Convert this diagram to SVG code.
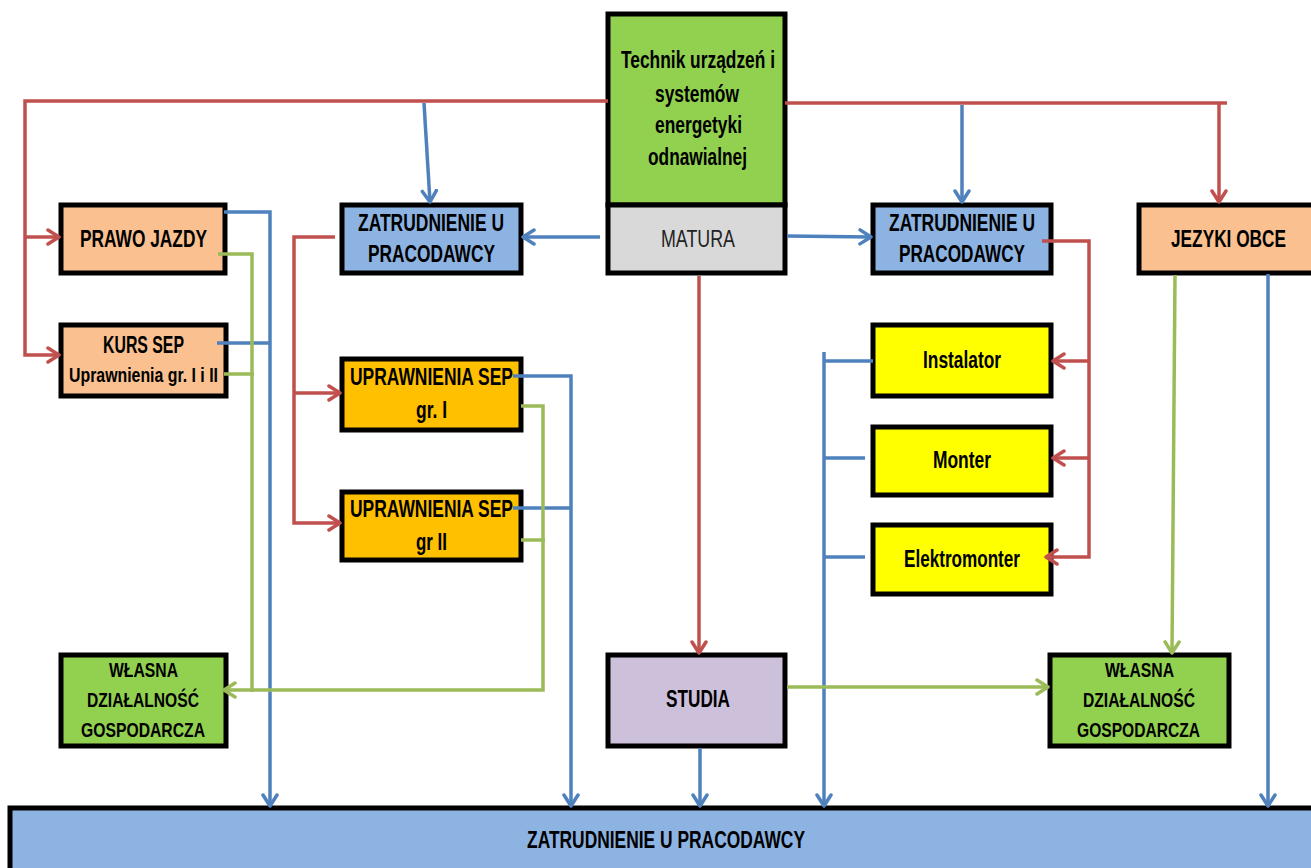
<svg xmlns="http://www.w3.org/2000/svg" width="1311" height="868" viewBox="0 0 1311 868">
<style>
.box{stroke:#000;stroke-width:5}
.t{font-family:"Liberation Sans",Arial,sans-serif;font-weight:bold;font-size:23px;fill:#000}
.s{font-size:21px}
.n{font-weight:normal;fill:#222}
.r{stroke:#C0504D;stroke-width:3.5;fill:none}
.b{stroke:#4F81BD;stroke-width:3.5;fill:none}
.g{stroke:#9BBB59;stroke-width:3.5;fill:none}
.r.a{marker-end:url(#ar)}
.b.a{marker-end:url(#ab)}
.g.a{marker-end:url(#ag)}
</style>
<defs>
<marker id="ar" viewBox="0 0 16 18" refX="13" refY="9" markerWidth="16" markerHeight="18" markerUnits="userSpaceOnUse" orient="auto"><path d="M2,2 L13,9 L2,16" fill="none" stroke="#C0504D" stroke-width="3.5" stroke-linecap="round" stroke-linejoin="round"/></marker>
<marker id="ab" viewBox="0 0 16 18" refX="13" refY="9" markerWidth="16" markerHeight="18" markerUnits="userSpaceOnUse" orient="auto"><path d="M2,2 L13,9 L2,16" fill="none" stroke="#4F81BD" stroke-width="3.5" stroke-linecap="round" stroke-linejoin="round"/></marker>
<marker id="ag" viewBox="0 0 16 18" refX="13" refY="9" markerWidth="16" markerHeight="18" markerUnits="userSpaceOnUse" orient="auto"><path d="M2,2 L13,9 L2,16" fill="none" stroke="#9BBB59" stroke-width="3.5" stroke-linecap="round" stroke-linejoin="round"/></marker>
</defs>
<rect width="1311" height="868" fill="#fff"/>

<g id="tech">
<rect class="box" x="608" y="14" width="177" height="191" fill="#92D050"/>
<text class="t" x="621" y="68" textLength="154" lengthAdjust="spacingAndGlyphs">Technik urządzeń i</text>
<text class="t" x="655" y="102" textLength="84" lengthAdjust="spacingAndGlyphs">systemów</text>
<text class="t" x="655" y="133" textLength="87" lengthAdjust="spacingAndGlyphs">energetyki</text>
<text class="t" x="648" y="165" textLength="99" lengthAdjust="spacingAndGlyphs">odnawialnej</text>
</g>
<g id="matura">
<rect class="box" x="608" y="205" width="177" height="68" fill="#D9D9D9"/>
<text class="t n" x="661" y="247" textLength="74" lengthAdjust="spacingAndGlyphs">MATURA</text>
</g>
<g id="prawo-jazdy">
<rect class="box" x="61" y="205" width="164" height="68" fill="#FAC090"/>
<text class="t" x="80" y="247" textLength="127" lengthAdjust="spacingAndGlyphs">PRAWO JAZDY</text>
</g>
<g id="zatrudnienie-lewe">
<rect class="box" x="342" y="205" width="179" height="68" fill="#8DB3E2"/>
<text class="t" x="358" y="231" textLength="146" lengthAdjust="spacingAndGlyphs">ZATRUDNIENIE U</text>
<text class="t" x="368" y="262" textLength="127" lengthAdjust="spacingAndGlyphs">PRACODAWCY</text>
</g>
<g id="zatrudnienie-prawe">
<rect class="box" x="873" y="205" width="178" height="68" fill="#8DB3E2"/>
<text class="t" x="889" y="231" textLength="146" lengthAdjust="spacingAndGlyphs">ZATRUDNIENIE U</text>
<text class="t" x="899" y="262" textLength="126" lengthAdjust="spacingAndGlyphs">PRACODAWCY</text>
</g>
<g id="jezyki-obce">
<rect class="box" x="1139" y="205" width="176" height="68" fill="#FAC090"/>
<text class="t" x="1171" y="247" textLength="115" lengthAdjust="spacingAndGlyphs">JEZYKI OBCE</text>
</g>
<g id="kurs-sep">
<rect class="box" x="61" y="325" width="165" height="71" fill="#FAC090"/>
<text class="t" x="103" y="353" textLength="81" lengthAdjust="spacingAndGlyphs">KURS SEP</text>
<text class="t s" x="69" y="382" textLength="149" lengthAdjust="spacingAndGlyphs">Uprawnienia gr. I i II</text>
</g>
<g id="uprawnienia-gr1">
<rect class="box" x="342" y="359" width="179" height="71" fill="#FFC000"/>
<text class="t" x="350" y="385" textLength="163" lengthAdjust="spacingAndGlyphs">UPRAWNIENIA SEP</text>
<text class="t" x="416" y="418" textLength="31" lengthAdjust="spacingAndGlyphs">gr. I</text>
</g>
<g id="uprawnienia-gr2">
<rect class="box" x="342" y="492" width="179" height="68" fill="#FFC000"/>
<text class="t" x="350" y="517" textLength="163" lengthAdjust="spacingAndGlyphs">UPRAWNIENIA SEP</text>
<text class="t" x="416" y="550" textLength="31" lengthAdjust="spacingAndGlyphs">gr II</text>
</g>
<g id="instalator">
<rect class="box" x="873" y="325" width="178" height="71" fill="#FFFF00"/>
<text class="t" x="923" y="368" textLength="78" lengthAdjust="spacingAndGlyphs">Instalator</text>
</g>
<g id="monter">
<rect class="box" x="873" y="427" width="178" height="68" fill="#FFFF00"/>
<text class="t" x="933" y="468" textLength="58" lengthAdjust="spacingAndGlyphs">Monter</text>
</g>
<g id="elektromonter">
<rect class="box" x="873" y="525" width="178" height="69" fill="#FFFF00"/>
<text class="t" x="904" y="567" textLength="116" lengthAdjust="spacingAndGlyphs">Elektromonter</text>
</g>
<g id="wlasna-lewa">
<rect class="box" x="61" y="655" width="165" height="91" fill="#92D050"/>
<text class="t s" x="109" y="677" textLength="69" lengthAdjust="spacingAndGlyphs">WŁASNA</text>
<text class="t s" x="87" y="707" textLength="112" lengthAdjust="spacingAndGlyphs">DZIAŁALNOŚĆ</text>
<text class="t s" x="81" y="737" textLength="124" lengthAdjust="spacingAndGlyphs">GOSPODARCZA</text>
</g>
<g id="studia">
<rect class="box" x="608" y="655" width="177" height="91" fill="#CCC0DA"/>
<text class="t" x="666" y="707" textLength="64" lengthAdjust="spacingAndGlyphs">STUDIA</text>
</g>
<g id="wlasna-prawa">
<rect class="box" x="1050" y="655" width="179" height="91" fill="#92D050"/>
<text class="t s" x="1105" y="677" textLength="69" lengthAdjust="spacingAndGlyphs">WŁASNA</text>
<text class="t s" x="1083" y="707" textLength="112" lengthAdjust="spacingAndGlyphs">DZIAŁALNOŚĆ</text>
<text class="t s" x="1077" y="737" textLength="123" lengthAdjust="spacingAndGlyphs">GOSPODARCZA</text>
</g>
<g id="zatrudnienie-dol">
<rect class="box" x="10" y="808" width="1320" height="80" fill="#8DB3E2"/>
<text class="t" x="527" y="848" textLength="278" lengthAdjust="spacingAndGlyphs">ZATRUDNIENIE U PRACODAWCY</text>
</g>

<g id="connectors">
<path class="r a" d="M608,101 H25 V355 H59"/>
<path class="r a" d="M25,237 H59"/>
<path class="r" d="M785,103 H1227"/>
<path class="r a" d="M1219,103 V202"/>
<path class="r a" d="M335,237 H294 V523 H340"/>
<path class="r a" d="M294,393 H340"/>
<path class="r a" d="M1042,241 H1089 V557 H1046"/>
<path class="r a" d="M1089,361 H1053"/>
<path class="r a" d="M1089,458 H1053"/>
<path class="r a" d="M699,276 V653"/>
<path class="b a" d="M424,103 L430,202"/>
<path class="b a" d="M600,237 H523"/>
<path class="b a" d="M787,236 L871,237"/>
<path class="b a" d="M962,105 V202"/>
<path class="b a" d="M224,212 H270 V806"/>
<path class="b" d="M217,343 H270"/>
<path class="b a" d="M513,376 H571 V806"/>
<path class="b" d="M513,508 H571"/>
<path class="b a" d="M700,748 V806"/>
<path class="b a" d="M824,352 V806"/>
<path class="b" d="M824,361 H873 M824,458 H865 M824,557 H865"/>
<path class="b a" d="M1268,274 V806"/>
<path class="g" d="M218,254 H252 V692 M224,374 H254"/>
<path class="g a" d="M521,406 H543 V690 H224"/>
<path class="g" d="M521,540 H545"/>
<path class="g a" d="M787,687 H1048"/>
<path class="g a" d="M1175,275 L1172,653"/>
</g>
</svg>
